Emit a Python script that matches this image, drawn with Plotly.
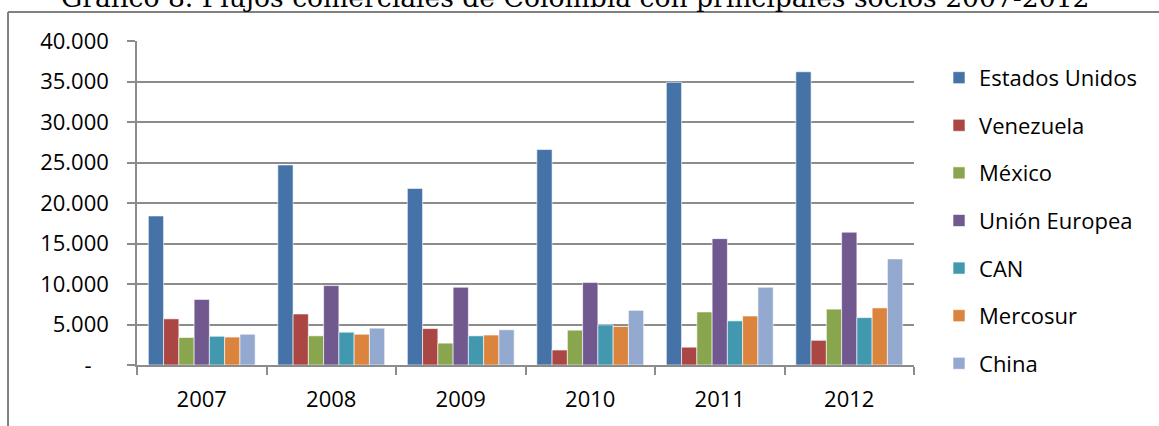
import plotly.graph_objects as go

# Years on the x axis
years = ["2007", "2008", "2009", "2010", "2011", "2012"]

# Trade flows per partner (millions of USD)
estados_unidos = [18400, 24700, 21800, 26600, 34900, 36200]
venezuela = [5700, 6300, 4500, 1850, 2200, 3050]
mexico = [3400, 3600, 2700, 4300, 6550, 6900]
union_europea = [8100, 9800, 9600, 10200, 15600, 16400]
can = [3550, 4050, 3600, 4950, 5450, 5850]
mercosur = [3450, 3800, 3700, 4750, 6050, 7050]
china = [3800, 4550, 4350, 6750, 9600, 13100]

series_names = ["Estados Unidos", "Venezuela", "México", "Unión Europea",
                "CAN", "Mercosur", "China"]
series_values = [estados_unidos, venezuela, mexico, union_europea,
                 can, mercosur, china]
series_colors = ["#4572A7", "#AA4643", "#89A54E", "#71588F",
                 "#4198AF", "#DB843D", "#93A9CF"]

# Y axis ticks in Excel accounting style
y_tickvals = [0, 5000, 10000, 15000, 20000, 25000, 30000, 35000, 40000]
y_ticktext = ["-\u00a0\u00a0\u00a0", "5.000", "10.000", "15.000", "20.000",
              "25.000", "30.000", "35.000", "40.000"]

TITLE = "Gráfico 8. Flujos comerciales de Colombia con principales socios 2007-2012"
FONT = "Open Sans"
GRID = "#8C8C8C"
FRAME = "#808080"

fig = go.Figure()
for i, (name, vals, color) in enumerate(zip(series_names, series_values, series_colors)):
    fig.add_trace(
        go.Bar(
            x=years,
            y=vals,
            name=name,
            legendgroup=f"g{i}",
            marker=dict(color=color, line=dict(color="rgba(255,255,255,0.6)", width=1)),
        )
    )

fig.update_layout(
    width=1159,
    height=426,
    margin=dict(l=137, r=245, t=41, b=61, autoexpand=False),
    paper_bgcolor="white",
    plot_bgcolor="white",
    barmode="group",
    bargap=0.175,
    bargroupgap=0,
    font=dict(family=FONT, size=22, color="black"),
    showlegend=True,
    legend=dict(
        x=1.0322,
        y=0.951,
        xanchor="left",
        yanchor="top",
        traceorder="grouped",
        tracegroupgap=16,
        font=dict(size=22),
        itemwidth=30,
        maxheight=1000,
    ),
)

fig.update_yaxes(
    range=[0, 40000],
    tickvals=y_tickvals,
    ticktext=y_ticktext,
    showgrid=True,
    gridcolor=GRID,
    gridwidth=1.5,
    showline=True,
    linecolor=GRID,
    linewidth=1.5,
    ticks="outside",
    ticklen=8,
    tickcolor=GRID,
    tickwidth=1.5,
    ticklabelstandoff=14,
    zeroline=False,
)

fig.update_xaxes(
    showline=True,
    linecolor=GRID,
    linewidth=1.5,
    ticks="outside",
    tickson="boundaries",
    ticklen=8,
    tickcolor=GRID,
    tickwidth=1.5,
    ticklabelstandoff=14,
)

# Chart frame (only top and left borders fall inside the picture)
fig.add_shape(
    type="line", xref="paper", yref="paper", layer="above",
    x0=-0.166, x1=1.5, y0=1.0895, y1=1.0895,
    line=dict(color=FRAME, width=2),
)
fig.add_shape(
    type="line", xref="paper", yref="paper", layer="above",
    x0=-0.166, x1=-0.166, y0=-0.5, y1=1.0895,
    line=dict(color=FRAME, width=2),
)

# Title of the page, partly cut off at the top of the picture
fig.add_annotation(
    text=TITLE,
    xref="paper",
    yref="paper",
    x=0.5637,
    y=1.133,
    xanchor="center",
    yanchor="middle",
    showarrow=False,
    font=dict(family="DejaVu Serif", size=26.6, color="black"),
)

fig.write_html(
    "out.html",
    config={"displayModeBar": False},
    post_script="document.body.style.margin='0';",
)
